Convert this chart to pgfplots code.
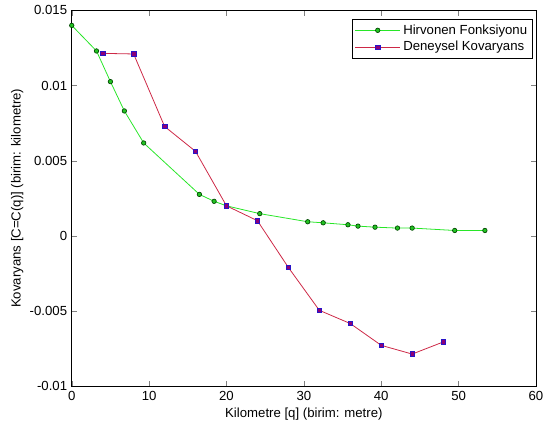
\documentclass[border={5pt 0pt 1pt 1pt}]{standalone}
\usepackage{fontspec}
\setmainfont{Liberation Sans}
\usepackage{pgfplots}
\pgfplotsset{compat=1.18}
\definecolor{hgreen}{RGB}{40,230,40}
\definecolor{hedge}{RGB}{0,70,0}
\definecolor{dred}{RGB}{205,40,70}
\definecolor{dpurple}{RGB}{140,0,120}
\definecolor{dblue}{RGB}{40,20,200}

\begin{document}
\begin{tikzpicture}
\begin{axis}[scale only axis,width=352pt,height=285pt,
	xmin=0,xmax=60,ymin=-0.01,ymax=0.015,
	xtick={0,10,...,60},
	ytick={-0.01,-0.005,0,0.005,0.01,0.015},
	yticklabels={-0.01,-0.005,0,0.005,0.01,0.015},
	scaled y ticks=false,
	tick align=inside,tick pos=both,
	major tick length=4pt,
	tick label style={font=\fontsize{10}{11}\selectfont},
	label style={font=\fontsize{10}{11}\selectfont},
	xlabel={Kilometre [q] (birim: metre)},
	ylabel={Kovaryans [C=C(q)] (birim: kilometre)},
	xlabel style={yshift=1pt},
	ylabel style={yshift=-2pt},
	/pgf/number format/assume math mode=true,
	legend style={font=\fontsize{10}{11}\selectfont,at={(0.993,0.977)},anchor=north east,
		draw=black,line width=0.4pt,cells={anchor=west},inner sep=2pt},
	legend image code/.code={\draw[mark repeat=2,mark phase=2]
		plot coordinates {(0cm,0cm) (0.6cm,0cm) (1.2cm,0cm)};}]
\addplot[hgreen,line width=0.6pt,mark=*,mark size=1.7pt,
	mark options={fill=hgreen!85!black,draw=hedge,line width=0.5pt}] coordinates {
(0,0.0140) (3.2,0.0123) (5.0,0.01026) (6.8,0.00831) (9.3,0.00618)
(16.5,0.00276) (18.4,0.0023) (20.0,0.0020) (24.3,0.00148)
(30.5,0.00094) (32.5,0.00087) (35.7,0.00074) (37.0,0.00065)
(39.2,0.00058) (42.1,0.00052) (44.0,0.00052) (49.5,0.00036) (53.4,0.00036)};
\addlegendentry{Hirvonen Fonksiyonu}
\addplot[dred,line width=0.6pt,mark=square*,mark size=1.7pt,
	mark options={fill=dpurple,draw=dblue,line width=0.5pt}] coordinates {
(4,0.01214) (8,0.0121) (12,0.00728) (16,0.00562) (20,0.0020)
(24,0.00101) (28,-0.0021) (32,-0.00495) (36,-0.00583)
(40,-0.00728) (44,-0.00786) (48,-0.00706)};
\addlegendentry{Deneysel Kovaryans}
\end{axis}
\end{tikzpicture}
\end{document}
